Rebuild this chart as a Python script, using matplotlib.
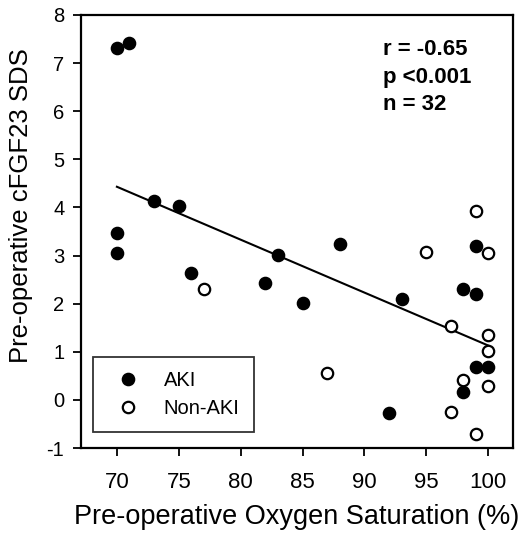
import matplotlib
matplotlib.use("Agg")
import matplotlib.pyplot as plt
import numpy as np

plt.rcParams['font.family'] = ['Liberation Sans', 'DejaVu Sans']
plt.rcParams['axes.unicode_minus'] = False

# AKI group (filled)
aki_x = [70, 71, 73, 75, 70, 70, 76, 82, 83, 85, 88, 99, 98, 99, 93, 99, 100, 98, 92]
aki_y = [7.32, 7.42, 4.13, 4.04, 3.47, 3.06, 2.63, 2.42, 3.02, 2.02, 3.25, 3.19, 2.31, 2.21, 2.10, 0.68, 0.68, 0.16, -0.28]
# Non-AKI group (open)
non_x = [77, 99, 95, 100, 97, 100, 100, 87, 98, 100, 97, 99]
non_y = [2.30, 3.93, 3.07, 3.05, 1.53, 1.34, 1.02, 0.56, 0.41, 0.29, -0.25, -0.71]
# Regression line endpoints
fit_x = [70, 100]
fit_y = [4.43, 1.13]

x_ticks = [70, 75, 80, 85, 90, 95, 100]
y_ticks = [-1, 0, 1, 2, 3, 4, 5, 6, 7, 8]
stats_text = "r = -0.65\np <0.001\nn = 32"

fig = plt.figure(figsize=(5.22, 5.35), dpi=100)
ax = fig.add_axes([81/522, 1-448/535, (513-81)/522, (448-15)/535])

ax.plot(fit_x, fit_y, color='black', lw=1.5, zorder=1)
ax.plot(aki_x, aki_y, 'o', ms=8.6, mfc='black', mec='black', mew=1.2, ls='none', label='AKI', zorder=3)
ax.plot(non_x, non_y, 'o', ms=8.2, mfc='white', mec='black', mew=1.6, ls='none', label='Non-AKI', zorder=3)

ax.set_xlim(67.1, 102.0)
ax.set_ylim(-1, 8)
ax.set_xticks(x_ticks)
ax.set_yticks(y_ticks)
for s in ax.spines.values():
    s.set_linewidth(1.6)
ax.tick_params(direction='out', length=6, width=1.3)
ax.tick_params(axis='x', labelsize=16, pad=11)
ax.tick_params(axis='y', labelsize=14.5, pad=6)

ax.set_xlabel('Pre-operative Oxygen Saturation (%)', fontsize=19.5, labelpad=8)
ax.set_ylabel('Pre-operative cFGF23 SDS', fontsize=18.5)
ax.yaxis.set_label_coords(-0.111, 0.56)

ax.text(0.699, 0.944, stats_text, transform=ax.transAxes, fontsize=16, fontweight='bold',
        va='top', ha='left', linespacing=1.4)

leg = ax.legend(loc='lower left', bbox_to_anchor=(0.028, 0.037), borderaxespad=0, fontsize=14.5,
                frameon=True, fancybox=False, edgecolor='black', handletextpad=0.7, borderpad=0.7,
                labelspacing=0.45, handlelength=2.1)
leg.get_frame().set_linewidth(1.3)

fig.savefig('out.png', dpi=100)
